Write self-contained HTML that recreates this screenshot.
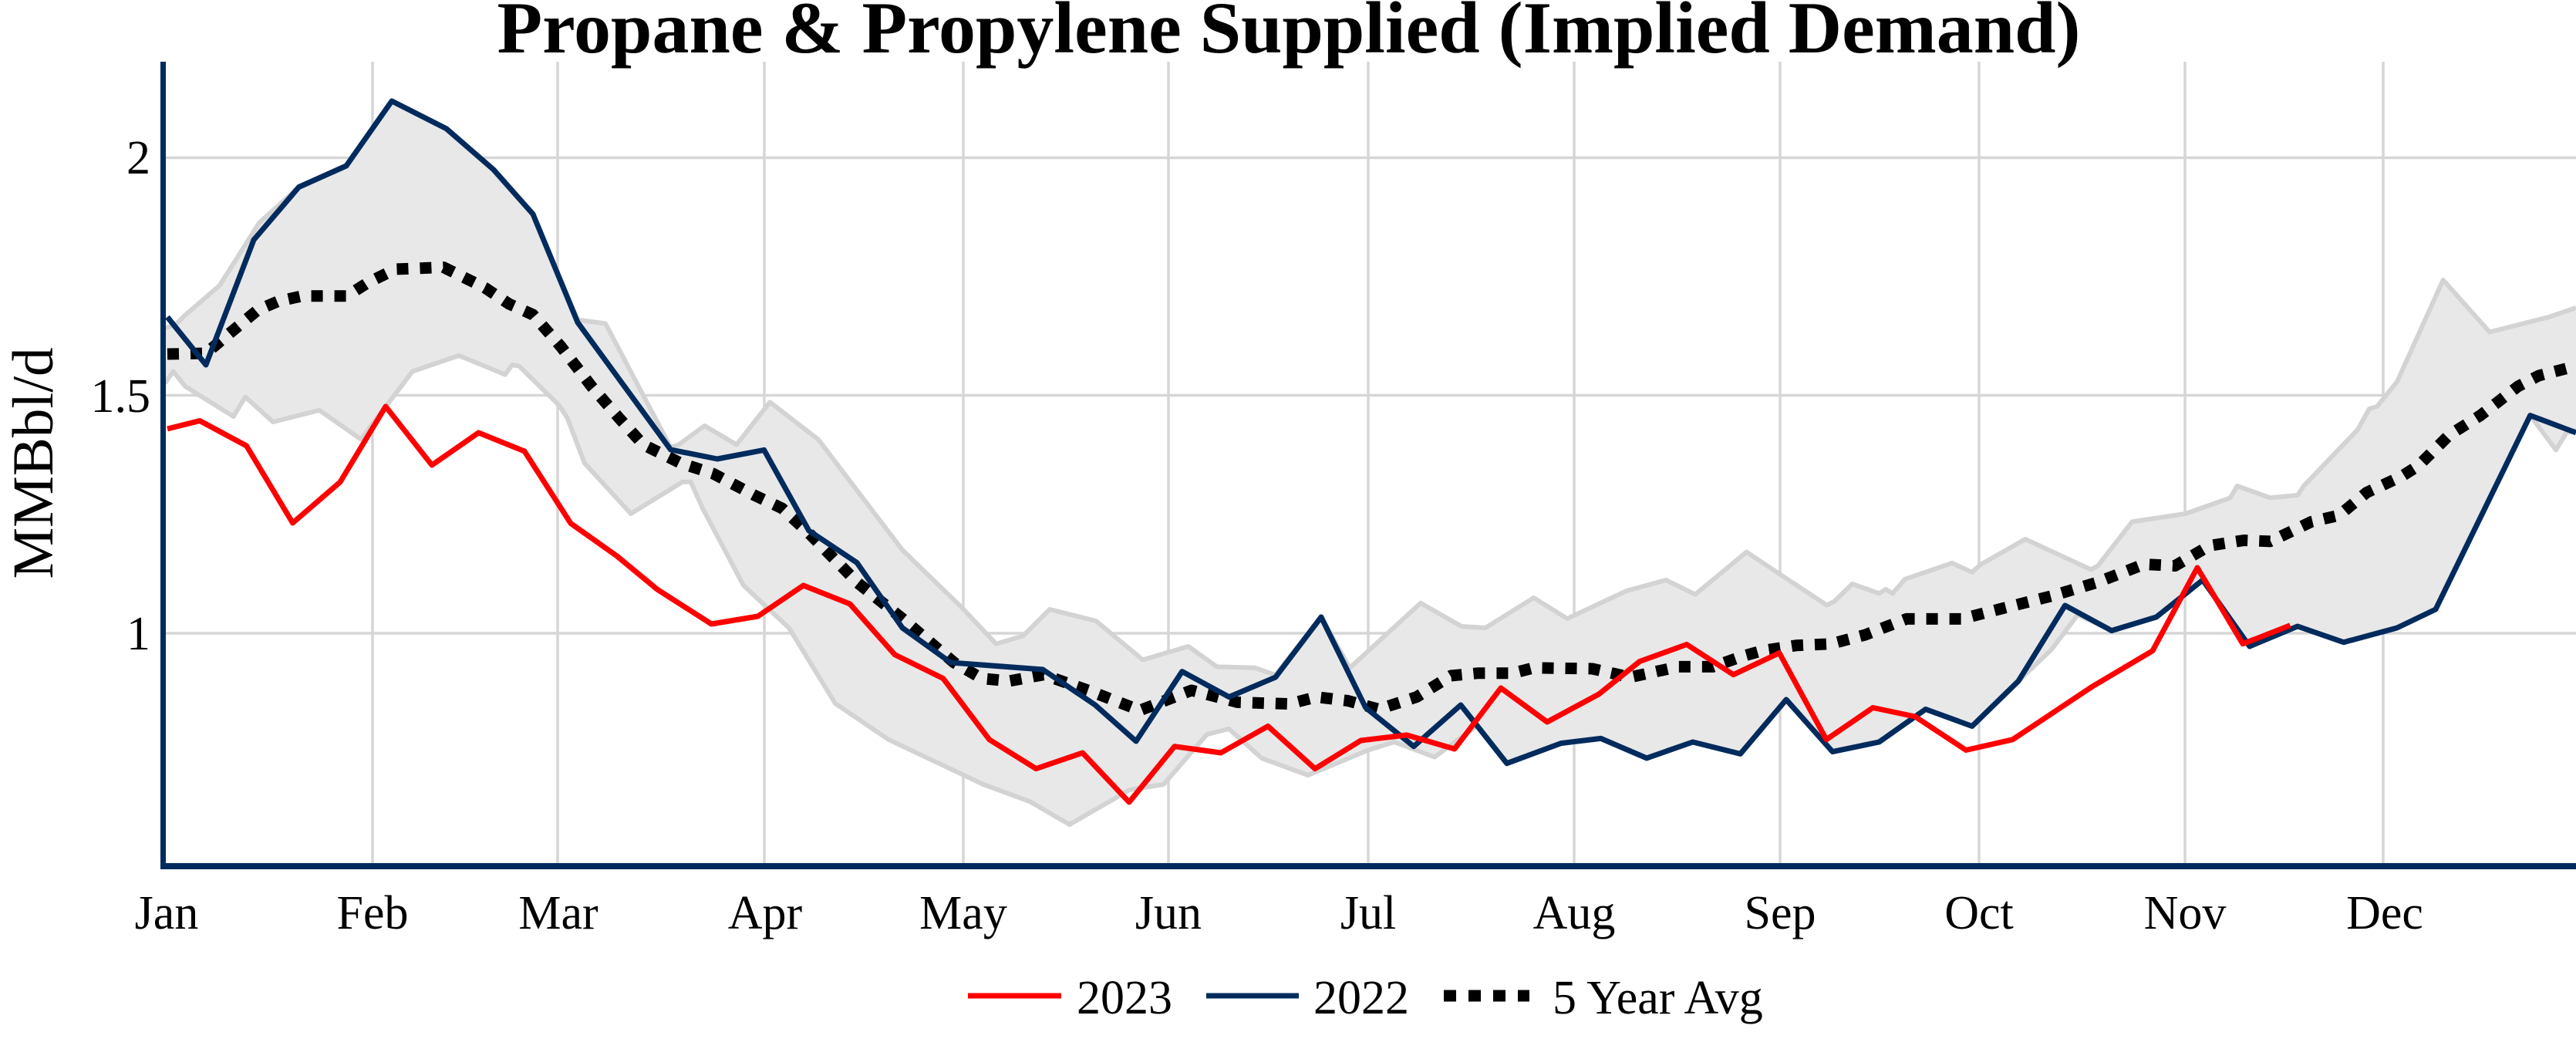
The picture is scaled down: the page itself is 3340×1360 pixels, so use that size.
<!DOCTYPE html>
<html>
<head>
<meta charset="utf-8">
<style>
html,body{margin:0;padding:0;background:#fff;}
svg{display:block;}
text{font-family:"Liberation Serif","Times New Roman",serif;fill:#000;}
</style>
</head>
<body>
<svg width="3340" height="1360" viewBox="0 0 3340 1360" xmlns="http://www.w3.org/2000/svg">
<rect x="0" y="0" width="3340" height="1360" fill="#fff"/>

<!-- gridlines -->
<g stroke="#d6d6d6" stroke-width="3.5" fill="none">
  <line x1="212" y1="204.5" x2="3340" y2="204.5"/>
  <line x1="212" y1="512.5" x2="3340" y2="512.5"/>
  <line x1="212" y1="821" x2="3340" y2="821"/>
  <line x1="483" y1="80" x2="483" y2="1123"/>
  <line x1="723" y1="80" x2="723" y2="1123"/>
  <line x1="991" y1="80" x2="991" y2="1123"/>
  <line x1="1249" y1="80" x2="1249" y2="1123"/>
  <line x1="1515" y1="80" x2="1515" y2="1123"/>
  <line x1="1774" y1="80" x2="1774" y2="1123"/>
  <line x1="2041" y1="80" x2="2041" y2="1123"/>
  <line x1="2308" y1="80" x2="2308" y2="1123"/>
  <line x1="2566" y1="80" x2="2566" y2="1123"/>
  <line x1="2833" y1="80" x2="2833" y2="1123"/>
  <line x1="3090" y1="80" x2="3090" y2="1123"/>
</g>

<!-- band fill -->
<polygon fill="#e8e8e8" stroke="none" points="
214,425 226.8,421.6 238.5,410 284.8,370 336,289 387.5,242.5 449,215 508,131 578.6,166.7 640,220 691,277.6 749,414.7 785,419.5 869.6,580 880,576.5 913.5,552 955,576.5 998.3,521.4 1060.8,569.6 1170,713 1246,786.6 1291.6,834.8 1326.4,824.5 1361,790 1421,805 1481.8,855.5 1540.7,838 1577.9,864.4 1627,865.8 1653.75,875 1713,800 1750,866 1842,781.8 1894.8,812 1926,814 1988.6,775 2032,802 2109,766 2160,752 2198,770.7 2264.6,715.6 2307,744 2368.6,784.5 2378.4,779.7 2401.6,757 2436.4,769.4 2445,764 2454,769.4 2470,750.8 2531,730 2557,741.8 2568,732 2626,699 2711,738.4 2720,733.6 2764.6,676.4 2833.7,666 2891.8,645.4 2900.7,630 2943.6,645.4 2979,642 2987,630 3057,557 3072,530 3082,527 3108,495 3167.7,363 3228,430.5 3305,411 3340,399
3340,558 3327.5,561 3314,583.4 3280.6,538.6 3158,790 3108,814 3038.7,832.7 2979,812 2916.8,838 2856,752 2795.8,800 2737.8,817.6 2694,797 2660,842 2617,883 2557,941.5 2496.7,919.5 2436.4,962 2376,974.6 2316,907 2256.5,977.4 2194.8,962 2135,982.9 2075.6,957.4 2024,963.6 1953.75,989.7 1915,941 1860,981.5 1807.8,962 1774,972.5 1696,1005 1636,983 1593.5,945 1565,952 1508.6,1017 1464.8,1024 1386.7,1069 1335,1039 1275,1017 1152,958.8 1083,912 1022.9,814 964,759 911,659 895.6,624.7 885,624.7 818,666 758,600.6 735.7,542 724.5,525 673,474.6 664,473 655,485.6 595,461 534.8,481.5 468,569.6 414,531.8 354,547 318,514.5 302.7,540 240,500.8 224.5,481.5 214,497"/>

<!-- band edge lines -->
<g stroke="#d3d3d3" stroke-width="6" fill="none" stroke-linejoin="round">
<polyline points="214,425 226.8,421.6 238.5,410 284.8,370 336,289 387.5,242.5 449,215 508,131 578.6,166.7 640,220 691,277.6 749,414.7 785,419.5 869.6,580 880,576.5 913.5,552 955,576.5 998.3,521.4 1060.8,569.6 1170,713 1246,786.6 1291.6,834.8 1326.4,824.5 1361,790 1421,805 1481.8,855.5 1540.7,838 1577.9,864.4 1627,865.8 1653.75,875 1713,800 1750,866 1842,781.8 1894.8,812 1926,814 1988.6,775 2032,802 2109,766 2160,752 2198,770.7 2264.6,715.6 2307,744 2368.6,784.5 2378.4,779.7 2401.6,757 2436.4,769.4 2445,764 2454,769.4 2470,750.8 2531,730 2557,741.8 2568,732 2626,699 2711,738.4 2720,733.6 2764.6,676.4 2833.7,666 2891.8,645.4 2900.7,630 2943.6,645.4 2979,642 2987,630 3057,557 3072,530 3082,527 3108,495 3167.7,363 3228,430.5 3305,411 3340,399"/>
<polyline points="214,497 224.5,481.5 240,500.8 302.7,540 318,514.5 354,547 414,531.8 468,569.6 534.8,481.5 595,461 655,485.6 664,473 673,474.6 724.5,525 735.7,542 758,600.6 818,666 885,624.7 895.6,624.7 911,659 964,759 1022.9,814 1083,912 1152,958.8 1275,1017 1335,1039 1386.7,1069 1464.8,1024 1508.6,1017 1565,952 1593.5,945 1636,983 1696,1005 1774,972.5 1807.8,962 1860,981.5 1915,941 1953.75,989.7 2024,963.6 2075.6,957.4 2135,982.9 2194.8,962 2256.5,977.4 2316,907 2376,974.6 2436.4,962 2496.7,919.5 2557,941.5 2617,883 2660,842 2694,797 2737.8,817.6 2795.8,800 2856,752 2916.8,838 2979,812 3038.7,832.7 3108,814 3158,790 3280.6,538.6 3314,583.4 3327.5,561 3340,558"/>
</g>

<!-- 5 year avg -->
<polyline fill="none" stroke="#000" stroke-width="15" stroke-dasharray="15,15" stroke-linejoin="round" points="217,459 267,458 302.7,428 334,402 360.7,390.6 392,383.7 450,383.7 476.8,366.5 512.5,349 575,346.5 628.6,373 660,394 691,408 727,449 767,501 802.7,542 834,576.5 883,600.6 924.6,614 978,642 1014,659 1049.6,692 1112,755.6 1170,802 1237,859 1273,879.6 1308.6,883 1353,874.7 1415.7,896.8 1478,921 1514,907 1545,895 1604.6,910.5 1671.6,912.6 1707,903.6 1747.5,908.5 1787.7,919.5 1836.8,903.6 1881.4,876 1917,872.7 1961.8,872.7 1988.6,865.8 2064.5,867 2113.6,878 2176,864.4 2220.7,864.4 2260,850.6 2284.6,843.7 2329,836.8 2374,834.8 2418.6,823 2472,802.4 2543.6,802.4 2597,788.6 2659.6,772.8 2717.7,755.6 2780,731.5 2820,733.6 2865,707.4 2909.6,700.5 2943.6,701.9 2997,676.4 3033,668 3068.6,638.5 3113,618 3135.5,604 3175.7,564 3216,538.6 3265,500.8 3291.8,487 3340,474.6"/>

<!-- 2022 -->
<polyline fill="none" stroke="#012b5d" stroke-width="7" stroke-linejoin="round" points="217,411 267,473 329,311 387.5,242.5 449,215 508,131 578.6,166.7 640,220 691,277.6 749,418 869.6,583 930,595 990.7,583.4 1048.8,688 1111,729.4 1170,814 1232.7,859 1352,868 1420,914 1473,961 1532.7,870.6 1593.5,903.6 1653.75,878 1713,800 1770.7,917.5 1833,967.7 1894,914 1953.75,989.7 2024,963.6 2075.6,957.4 2135,982.9 2194.8,962 2256.5,977.4 2316,907 2376,974.6 2436.4,962 2496.7,919.5 2557,941.5 2617,883 2677.5,785 2737.8,817.6 2795.8,800 2856,752 2916.8,838 2979,812 3038.7,832.7 3108,814 3158,790 3280.6,538.6 3340,561"/>

<!-- 2023 -->
<polyline fill="none" stroke="#ff0000" stroke-width="7" stroke-linejoin="round" points="217,556 259,545.5 319.6,578 379.5,678 441,625 500,527 560,603 620.5,561 680,585 740,678.5 800,721 852,764 922.4,809 982.7,799 1041.6,759 1102,783 1160,848.6 1222.9,879.6 1282.7,958.8 1343.4,996.6 1403.6,976 1464,1040 1522.9,967.7 1583,976 1644,941.5 1705,996.6 1764.5,960 1824,953 1886,971 1946,892 2006,936 2073,900 2126,857.5 2187,835.5 2247.5,874.7 2307,846.5 2368,958.8 2428.4,917.5 2483,929 2549,972.5 2609.6,958.8 2713,890 2791,843.7 2849,736 2908,834.8 2969.5,810.7"/>

<!-- axes -->
<line x1="211.5" y1="80" x2="211.5" y2="1127" stroke="#012b5d" stroke-width="7"/>
<line x1="208" y1="1123" x2="3340" y2="1123" stroke="#012b5d" stroke-width="8"/>

<!-- y tick labels -->
<g font-size="62" text-anchor="end">
  <text x="195" y="225">2</text>
  <text x="195" y="534">1.5</text>
  <text x="195" y="842">1</text>
</g>

<!-- x tick labels -->
<g font-size="62" text-anchor="middle">
  <text x="216" y="1204">Jan</text>
  <text x="483" y="1204">Feb</text>
  <text x="724" y="1204">Mar</text>
  <text x="992" y="1204">Apr</text>
  <text x="1249" y="1204">May</text>
  <text x="1515" y="1204">Jun</text>
  <text x="1774" y="1204">Jul</text>
  <text x="2041" y="1204">Aug</text>
  <text x="2308" y="1204">Sep</text>
  <text x="2566" y="1204">Oct</text>
  <text x="2833" y="1204">Nov</text>
  <text x="3092" y="1204">Dec</text>
</g>

<!-- y axis title -->
<text x="0" y="0" font-size="75" text-anchor="middle" transform="translate(68,600.5) rotate(-90)">MMBbl/d</text>

<!-- title -->
<text x="1671" y="68" font-size="95" font-weight="bold" text-anchor="middle" textLength="2053" lengthAdjust="spacingAndGlyphs">Propane &amp; Propylene Supplied (Implied Demand)</text>

<!-- legend -->
<line x1="1255" y1="1291" x2="1376" y2="1291" stroke="#ff0000" stroke-width="7"/>
<text x="1396" y="1314" font-size="62">2023</text>
<line x1="1564" y1="1291" x2="1684" y2="1291" stroke="#012b5d" stroke-width="7"/>
<text x="1703" y="1314" font-size="62">2022</text>
<line x1="1872" y1="1291" x2="1983" y2="1291" stroke="#000" stroke-width="15" stroke-dasharray="16,16"/>
<text x="2013" y="1314" font-size="62">5 Year Avg</text>
</svg>
</body>
</html>
